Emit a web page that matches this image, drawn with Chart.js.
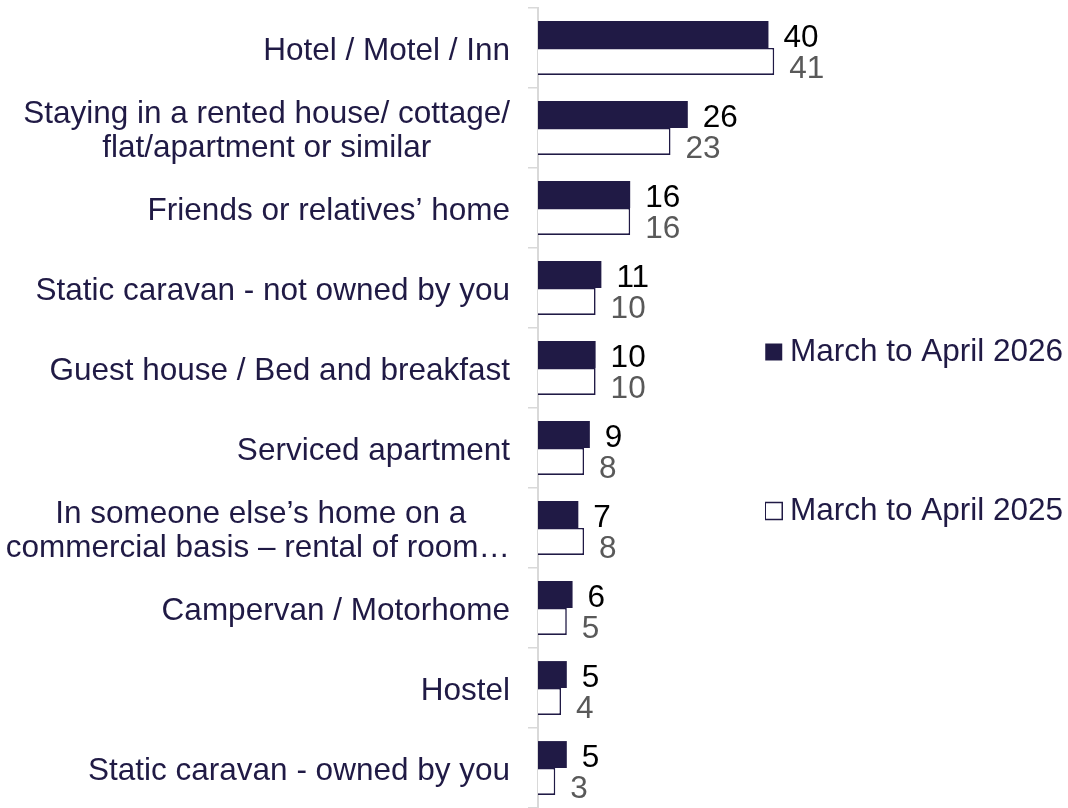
<!DOCTYPE html>
<html>
<head>
<meta charset="utf-8">
<script src="https://cdn.jsdelivr.net/npm/chart.js@4.4.1/dist/chart.umd.min.js"></script>
<style>
  html, body { margin: 0; padding: 0; background: #ffffff; }
  #wrap { width: 1068px; height: 808px; }
</style>
</head>
<body>
<div id="wrap"><canvas id="chart" width="1068" height="808"></canvas></div>
<script>
// ---- data ----
const categories = [
  'Hotel / Motel / Inn',
  ['Staying in a rented house/ cottage/', 'flat/apartment or similar'],
  'Friends or relatives’ home',
  'Static caravan - not owned by you',
  'Guest house / Bed and breakfast',
  'Serviced apartment',
  ['In someone else’s home on a', 'commercial basis – rental of room…'],
  'Campervan / Motorhome',
  'Hostel',
  'Static caravan - owned by you'
];
const seriesNames = ['March to April 2026', 'March to April 2025'];
const values2026 = [40, 26, 16, 11, 10, 9, 7, 6, 5, 5];
const values2025 = [41, 23, 16, 10, 10, 8, 8, 5, 4, 3];
const axisMax = 39.4;

// ---- styles ----
const FONT = "'Liberation Sans', Arial, sans-serif";
const FONT_SIZE = 31.5;
const NAVY = '#201A45';
const AXIS_GREY = '#D9D9D9';

// centre the lines of a multi-line category label within its block
const measureCtx = document.createElement('canvas').getContext('2d');
function centerLines(label) {
  if (!Array.isArray(label)) return label;
  measureCtx.font = FONT_SIZE + 'px ' + FONT;
  const widths = label.map(l => measureCtx.measureText(l).width);
  const maxW = Math.max(...widths);
  const sp = measureCtx.measureText(' ').width;
  return label.map((l, k) => l + ' '.repeat(Math.round((maxW - widths[k]) / 2 / sp)));
}

const valueLabels = {
  id: 'valueLabels',
  afterDatasetsDraw(chart, args, opts) {
    const ctx = chart.ctx;
    ctx.save();
    ctx.font = FONT_SIZE + 'px ' + FONT;
    ctx.textAlign = 'left';
    ctx.textBaseline = 'middle';
    chart.data.datasets.forEach((ds, di) => {
      const meta = chart.getDatasetMeta(di);
      ctx.fillStyle = opts.colors[di];
      meta.data.forEach((el, i) => {
        ctx.fillText(String(ds.data[i]), el.x + opts.offset, el.y + opts.shifts[di]);
      });
    });
    ctx.restore();
  }
};

new Chart(document.getElementById('chart'), {
  type: 'bar',
  data: {
    labels: categories,
    datasets: [
      {
        label: seriesNames[0],
        data: values2026,
        backgroundColor: NAVY,
        borderColor: NAVY,
        borderWidth: 0,
        categoryPercentage: 0.673,
        barPercentage: 1.0,
        clip: false
      },
      {
        label: seriesNames[1],
        data: values2025,
        backgroundColor: '#FFFFFF',
        borderColor: NAVY,
        borderWidth: 1.6,
        categoryPercentage: 0.673,
        barPercentage: 1.0,
        clip: false
      }
    ]
  },
  options: {
    indexAxis: 'y',
    responsive: false,
    animation: false,
    events: [],
    layout: { padding: { top: 8, bottom: -3, left: 0, right: 0 } },
    scales: {
      x: { type: 'linear', min: 0, max: axisMax, display: false },
      y: {
        type: 'category',
        afterFit(scale) {
          scale.width = 538;
          scale.paddingTop = 0;
          scale.paddingBottom = 0;
        },
        grid: {
          display: true, drawOnChartArea: false, drawTicks: true,
          tickLength: 10, color: AXIS_GREY, lineWidth: 1.5, offset: true
        },
        border: { display: true, color: AXIS_GREY, width: 2 },
        ticks: {
          color: NAVY,
          padding: 18,
          labelOffset: 3,
          autoSkip: false,
          font: { family: FONT, size: FONT_SIZE, lineHeight: 1.08 },
          callback: function (value) { return centerLines(this.getLabelForValue(value)); }
        }
      }
    },
    plugins: {
      tooltip: { enabled: false },
      valueLabels: { colors: ['#000000', '#595959'], shifts: [4, 8], offset: 15 },
      legend: {
        position: 'right',
        maxWidth: 303,
        onClick: () => {},
        title: { display: true, text: '', font: { size: 10 }, padding: { top: 32, bottom: 0 } },
        labels: {
          usePointStyle: true,
          pointStyle: 'rect',
          boxWidth: 1,
          boxHeight: 17,
          padding: 8.25,
          color: NAVY,
          font: { family: FONT, size: FONT_SIZE },
          generateLabels(chart) {
            const ds = chart.data.datasets;
            const item = (i) => ({
              text: ds[i].label,
              fillStyle: ds[i].backgroundColor,
              strokeStyle: NAVY,
              lineWidth: i === 0 ? 0 : 1.5,
              pointStyle: 'rect',
              hidden: false,
              datasetIndex: i,
              fontColor: NAVY
            });
            const spacer = () => ({
              text: '', fillStyle: 'rgba(0,0,0,0)', strokeStyle: 'rgba(0,0,0,0)',
              lineWidth: 0, pointStyle: 'rect', hidden: false
            });
            return [item(0), spacer(), spacer(), spacer(), item(1)];
          }
        }
      }
    }
  },
  plugins: [valueLabels]
});
</script>
</body>
</html>
